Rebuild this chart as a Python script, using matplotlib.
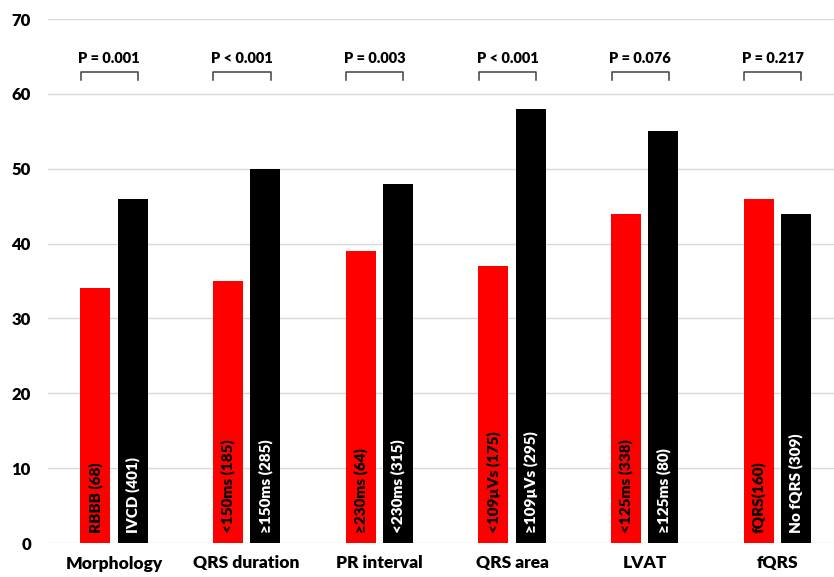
import numpy as np
import matplotlib.pyplot as plt

plt.rcParams['font.family'] = ['Lato', 'DejaVu Sans']

groups = ['Morphology', 'QRS duration', 'PR interval', 'QRS area', 'LVAT', 'fQRS']
red_vals = [34, 35, 39, 37, 44, 46]
black_vals = [46, 50, 48, 58, 55, 44]
red_labels = ['RBBB (68)', '<150ms (185)', '\u2265230ms (64)', '<109\u00b5Vs (175)', '<125ms (338)', 'fQRS(160)']
black_labels = ['IVCD (401)', '\u2265150ms (285)', '<230ms (315)', '\u2265109\u00b5Vs (295)', '\u2265125ms (80)', 'No fQRS (309)']
pvals = ['P = 0.001', 'P < 0.001', 'P = 0.003', 'P < 0.001', 'P = 0.076', 'P = 0.217']

fig = plt.figure(figsize=(8.34, 5.77), dpi=100)
ax = fig.add_axes([47.6/834, 1-543/577, 1-47.6/834, (543-19)/577])

x = np.arange(len(groups))
w = 0.226
off = 0.14
ax.bar(x - off, red_vals, w, color='#ff0000', zorder=2)
ax.bar(x + off, black_vals, w, color='black', zorder=2)

for i in range(len(groups)):
    ax.text(x[i] - off, 1.3, red_labels[i], rotation=90, ha='center', va='bottom',
            color='black', fontsize=11, fontweight='heavy', zorder=3)
    ax.text(x[i] + off, 1.3, black_labels[i], rotation=90, ha='center', va='bottom',
            color='white', fontsize=11, fontweight='heavy', zorder=3)
    x1, x2 = x[i] - 0.25, x[i] + 0.18
    ax.plot([x1, x1, x2, x2], [61.85, 62.9, 62.9, 61.85], color='#404040', lw=1.1, zorder=3)
    ax.text((x1 + x2) / 2, 64.7, pvals[i], ha='center', va='center',
            fontsize=10.5, fontweight='heavy', color='black')

ax.set_xlim(-0.5, 5.426)
ax.set_ylim(0, 70)
ax.set_yticks(np.arange(0, 71, 10))
ax.set_xticks(x)
ax.set_xticklabels(groups, fontsize=12.5, fontweight='heavy')
for lab in ax.get_yticklabels():
    lab.set_fontweight('heavy')
    lab.set_fontsize(12)
ax.tick_params(axis='both', length=0)
ax.tick_params(axis='y', pad=12)
ax.tick_params(axis='x', pad=9)
ax.grid(axis='y', color='#d9d9d9', lw=1, zorder=0)
for s in ax.spines.values():
    s.set_visible(False)

fig.savefig('out.png', dpi=100)
